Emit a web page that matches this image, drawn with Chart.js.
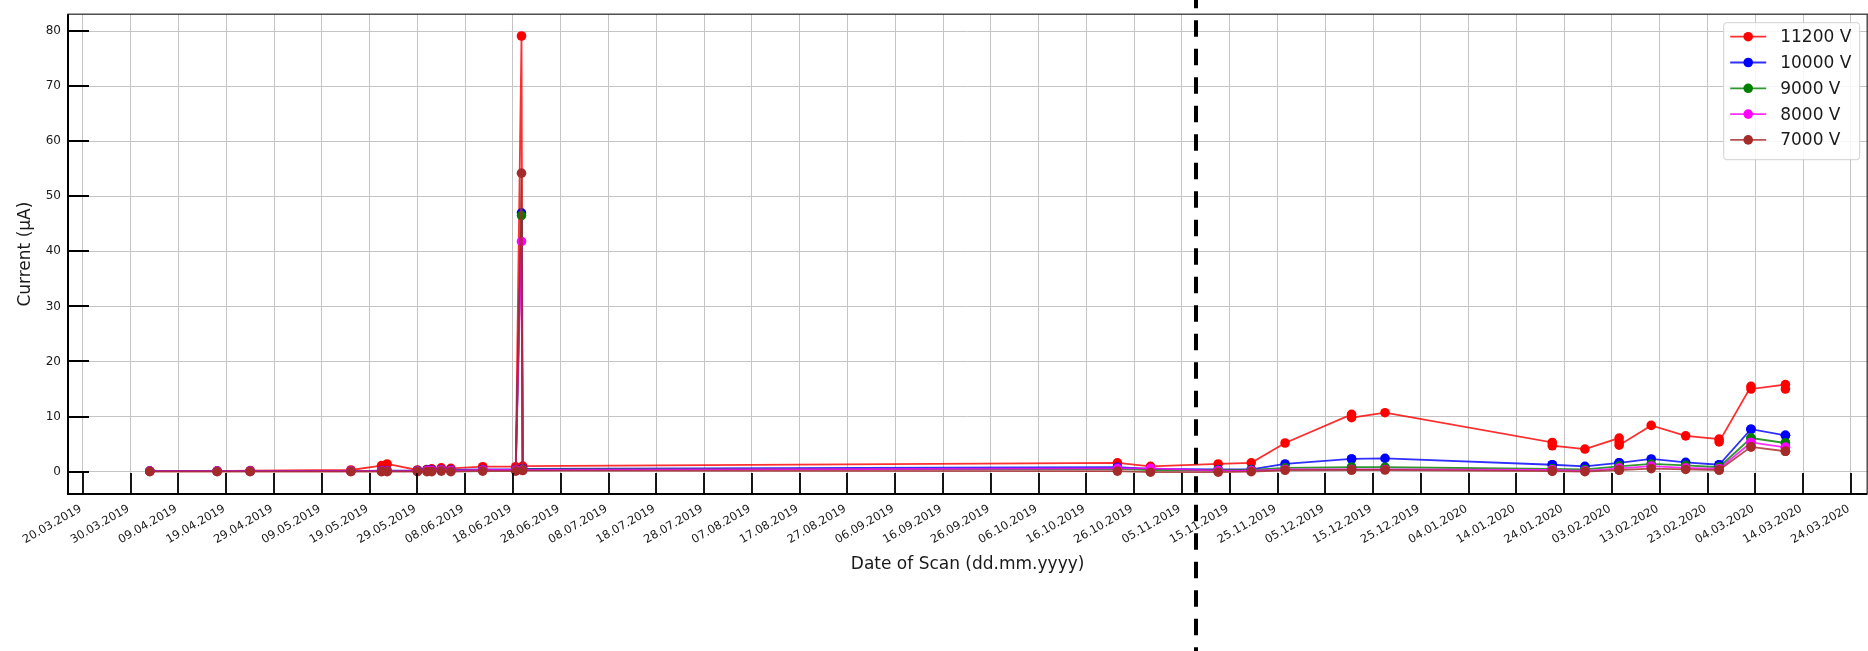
<!DOCTYPE html>
<html>
<head>
<meta charset="utf-8">
<title>Current vs date of scan</title>
<script src="https://cdn.jsdelivr.net/npm/chart.js@4.4.0/dist/chart.umd.min.js"></script>
<style>
  html, body { margin: 0; padding: 0; background: #fff; overflow: hidden; }
  #wrap { width: 1872px; height: 651px; }
</style>
</head>
<body>
<div id="wrap"><canvas id="scan-chart" width="1872" height="651"></canvas></div>
<script>
        // Scan timestamps (some days were scanned more than once)
        const scanDates = [
            '2019-04-03 00:00', '2019-04-17 02:00', '2019-04-24 00:00', '2019-05-15 02:00',
            '2019-05-21 12:00', '2019-05-22 16:00', '2019-05-29 00:00', '2019-05-31 00:00',
            '2019-06-01 00:00', '2019-06-03 00:00', '2019-06-05 00:00', '2019-06-11 16:00',
            '2019-06-18 14:00', '2019-06-19 19:00', '2019-06-20 01:00',
            '2019-10-22 12:00', '2019-10-29 10:00', '2019-11-12 14:00', '2019-11-19 12:00',
            '2019-11-26 14:00', '2019-12-10 12:00', '2019-12-10 12:00', '2019-12-17 12:00',
            '2020-01-21 12:00', '2020-01-21 12:00', '2020-01-28 08:00',
            '2020-02-04 12:00', '2020-02-04 12:00', '2020-02-04 12:00',
            '2020-02-11 05:00', '2020-02-18 10:00', '2020-02-25 10:00', '2020-02-25 10:00',
            '2020-03-03 02:00', '2020-03-03 02:00', '2020-03-10 07:00', '2020-03-10 07:00'
        ];

        // Current in uA per voltage
        const current11200 = [0.1, 0.1, 0.2, 0.3, 1.1, 1.4, 0.3, 0.4, 0.5, 0.7, 0.6, 0.9, 0.9, 79.1, 1.0,
            1.6, 0.95, 1.4, 1.6, 5.2, 10.4, 9.8, 10.7, 5.3, 4.7, 4.1, 6.1, 5.4, 4.8,
            8.4, 6.5, 5.9, 5.4, 15.5, 15.0, 15.8, 15.0];
        const current10000 = [0.1, 0.1, 0.1, 0.1, 0.2, 0.2, 0.2, 0.3, 0.3, 0.4, 0.3, 0.4, 0.4, 47.0, 0.5,
            0.8, 0.5, 0.4, 0.4, 1.4, 2.3, 2.3, 2.4, 1.25, 1.25, 0.95, 1.6, 1.6, 1.6,
            2.3, 1.7, 1.25, 1.25, 7.7, 7.7, 6.6, 6.6];
        const current9000 = [0.1, 0.1, 0.1, 0.1, 0.1, 0.1, 0.1, 0.2, 0.2, 0.3, 0.2, 0.3, 0.3, 46.5, 0.4,
            0.5, 0.3, 0.3, 0.3, 0.7, 0.8, 0.8, 0.8, 0.5, 0.5, 0.4, 0.95, 0.95, 0.95,
            1.4, 1.15, 0.8, 0.8, 6.1, 6.1, 5.2, 5.2];
        const current8000 = [0.1, 0.1, 0.1, 0.1, 0.1, 0.1, 0.1, 0.2, 0.2, 0.3, 0.2, 0.3, 0.3, 41.8, 0.3,
            0.6, 0.6, 0.2, 0.2, 0.4, 0.4, 0.4, 0.4, 0.3, 0.3, 0.15, 0.6, 0.6, 0.6,
            1.0, 0.7, 0.5, 0.5, 5.3, 5.3, 4.4, 4.4];
        const current7000 = [0.0, 0.0, 0.0, 0.0, 0.0, 0.0, 0.0, 0.0, 0.0, 0.1, 0.0, 0.1, 0.1, 54.2, 0.2,
            0.1, -0.1, -0.1, 0.0, 0.25, 0.3, 0.3, 0.3, 0.1, 0.1, 0.0, 0.3, 0.3, 0.3,
            0.55, 0.4, 0.3, 0.3, 4.5, 4.5, 3.7, 3.7];

        const seriesLabels = ['11200 V', '10000 V', '9000 V', '8000 V', '7000 V'];
        const seriesColors = ['#ff0000', '#0000ff', '#008000', '#ff00ff', '#a52a2a'];

        const tickLabels = [
            '20.03.2019', '30.03.2019', '09.04.2019', '19.04.2019', '29.04.2019', '09.05.2019',
            '19.05.2019', '29.05.2019', '08.06.2019', '18.06.2019', '28.06.2019', '08.07.2019',
            '18.07.2019', '28.07.2019', '07.08.2019', '17.08.2019', '27.08.2019', '06.09.2019',
            '16.09.2019', '26.09.2019', '06.10.2019', '16.10.2019', '26.10.2019', '05.11.2019',
            '15.11.2019', '25.11.2019', '05.12.2019', '15.12.2019', '25.12.2019', '04.01.2020',
            '14.01.2020', '24.01.2020', '03.02.2020', '13.02.2020', '23.02.2020', '04.03.2020',
            '14.03.2020', '24.03.2020'
        ];
        const yTicks = [0, 10, 20, 30, 40, 50, 60, 70, 80];

        // dashed marker line
        const markerDate = '2019-11-08 00:00';

        const FONT = 'DejaVu Sans';
        const TEXT = '#1a1a1a';

        // days since 20.03.2019 ('YYYY-MM-DD HH:MM' or 'DD.MM.YYYY')
        function toDays(s) {
            let y, m, d, hh = 0, mm = 0;
            if (s.includes('.')) {
                [d, m, y] = s.split('.').map(Number);
            } else {
                const [date, time] = s.split(' ');
                [y, m, d] = date.split('-').map(Number);
                if (time) [hh, mm] = time.split(':').map(Number);
            }
            return (Date.UTC(y, m - 1, d, hh, mm) - Date.UTC(2019, 2, 20)) / 864e5;
        }

        const allSeries = [current11200, current10000, current9000, current8000, current7000];
        const xs = scanDates.map(toDays);

        // matplotlib style 5% margins
        const xLo = Math.min(...xs), xHi = Math.max(...xs);
        const allVals = allSeries.flat();
        const yLo = Math.min(...allVals), yHi = Math.max(...allVals);
        const xPad = (xHi - xLo) * 0.05, yPad = (yHi - yLo) * 0.05;

        const datasets = allSeries.map((vals, i) => ({
            label: seriesLabels[i],
            data: vals.map((v, j) => ({ x: xs[j], y: v })),
            borderColor: seriesColors[i] + 'd0',
            backgroundColor: seriesColors[i],
            pointBackgroundColor: seriesColors[i],
            pointBorderWidth: 0,
            pointRadius: 4.8,
            pointHoverRadius: 4.8,
            borderWidth: 1.8,
            tension: 0,
            order: allSeries.length - i
        }));

        // inward tick marks + axes frame
        const frameAndTicks = {
            id: 'frameAndTicks',
            afterDatasetsDraw(chart) {
                const { ctx, chartArea: a, scales: { x, y } } = chart;
                ctx.save();
                ctx.strokeStyle = '#000';
                ctx.lineWidth = 1.8;
                ctx.beginPath();
                x.ticks.forEach(t => {
                    const px = Math.round(x.getPixelForValue(t.value));
                    ctx.moveTo(px, a.bottom);
                    ctx.lineTo(px, a.bottom - 21);
                });
                y.ticks.forEach(t => {
                    const py = Math.round(y.getPixelForValue(t.value));
                    ctx.moveTo(a.left, py);
                    ctx.lineTo(a.left + 21, py);
                });
                ctx.stroke();
                ctx.lineWidth = 1.3;
                ctx.strokeStyle = '#333';
                ctx.strokeRect(a.left, a.top, a.right - a.left, a.bottom - a.top);
                ctx.lineWidth = 2;
                ctx.strokeStyle = '#000';
                ctx.beginPath();
                ctx.moveTo(a.left, a.top);
                ctx.lineTo(a.left, a.bottom);
                ctx.lineTo(a.right, a.bottom);
                ctx.stroke();
                ctx.restore();
            }
        };

        // legend box with line + marker samples
        const boxLegend = {
            id: 'boxLegend',
            afterDraw(chart) {
                const { ctx, chartArea: a } = chart;
                const sets = chart.data.datasets;
                const w = 136, h = 137, rowH = 25.8;
                const bx = a.right - 8 - w, by = a.top + 8;
                ctx.save();
                ctx.fillStyle = 'rgba(255,255,255,0.85)';
                ctx.strokeStyle = '#d0d0d0';
                ctx.lineWidth = 1;
                ctx.beginPath();
                ctx.roundRect(bx + 0.5, by + 0.5, w, h, 3);
                ctx.fill();
                ctx.stroke();
                ctx.font = '17px "' + FONT + '"';
                ctx.textBaseline = 'middle';
                sets.forEach((ds, i) => {
                    const cy = by + 14.5 + i * rowH;
                    ctx.strokeStyle = ds.borderColor;
                    ctx.lineWidth = 1.8;
                    ctx.beginPath();
                    ctx.moveTo(bx + 7, cy);
                    ctx.lineTo(bx + 43, cy);
                    ctx.stroke();
                    ctx.fillStyle = ds.pointBackgroundColor;
                    ctx.beginPath();
                    ctx.arc(bx + 25, cy, 4.8, 0, Math.PI * 2);
                    ctx.fill();
                    ctx.fillStyle = TEXT;
                    ctx.fillText(ds.label, bx + 57, cy + 1);
                });
                ctx.restore();
            }
        };

        // thick dashed vertical marker over the full figure height
        const scanMarker = {
            id: 'scanMarker',
            afterDraw(chart) {
                const { ctx, scales: { x } } = chart;
                const px = Math.round(x.getPixelForValue(toDays(markerDate)));
                ctx.save();
                ctx.setLineDash([16.5, 12]);
                ctx.lineDashOffset = 8.2;
                ctx.lineWidth = 4;
                ctx.strokeStyle = '#000';
                ctx.beginPath();
                ctx.moveTo(px, 0);
                ctx.lineTo(px, chart.height);
                ctx.stroke();
                ctx.restore();
            }
        };

        const ctx = document.getElementById('scan-chart').getContext('2d');
        const scanChart = new Chart(ctx, {
            type: 'line',
            data: { datasets },
            options: {
                responsive: false,
                animation: false,
                devicePixelRatio: 1,
                layout: { padding: { left: 0, top: 10, right: 2, bottom: 76 } },
                plugins: {
                    legend: { display: false },
                    tooltip: { enabled: false }
                },
                events: [],
                scales: {
                    x: {
                        type: 'linear',
                        min: xLo - xPad,
                        max: xHi + xPad,
                        afterBuildTicks: scale => {
                            scale.ticks = tickLabels.map(t => ({ value: toDays(t) }));
                        },
                        afterFit: scale => { scale.height = 81; },
                        grid: { color: '#c4c4c4', lineWidth: 1, drawTicks: false },
                        border: { display: false },
                        ticks: {
                            autoSkip: false,
                            minRotation: 30,
                            maxRotation: 30,
                            padding: 8,
                            labelOffset: -2,
                            color: TEXT,
                            font: { family: FONT, size: 11.5 },
                            callback: (value, index) => tickLabels[index]
                        },
                        title: {
                            display: true,
                            text: 'Date of Scan (dd.mm.yyyy)',
                            color: TEXT,
                            font: { family: FONT, size: 17 },
                            padding: { top: 0, bottom: 0 }
                        }
                    },
                    y: {
                        min: yLo - yPad,
                        max: yHi + yPad,
                        afterBuildTicks: scale => {
                            scale.ticks = yTicks.map(v => ({ value: v }));
                        },
                        afterFit: scale => { scale.width = 68; },
                        grid: { color: '#c4c4c4', lineWidth: 1, drawTicks: false },
                        border: { display: false },
                        ticks: {
                            padding: 7,
                            color: TEXT,
                            font: { family: FONT, size: 12 },
                            callback: (value, index) => String(yTicks[index])
                        },
                        title: {
                            display: true,
                            text: 'Current (μA)',
                            color: TEXT,
                            font: { family: FONT, size: 17 },
                            padding: { top: 15, bottom: 0 }
                        }
                    }
                }
            },
            plugins: [frameAndTicks, boxLegend, scanMarker]
        });
</script>
</body>
</html>
